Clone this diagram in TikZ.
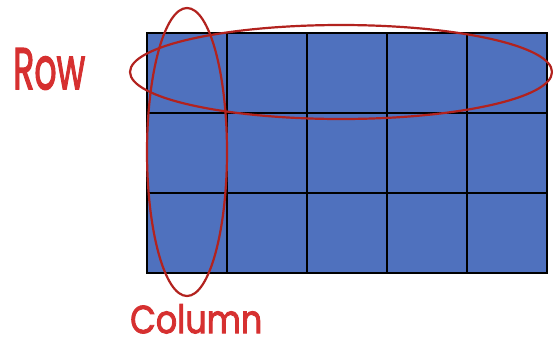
\documentclass[tikz,border=0pt]{standalone}
\usepackage{fontspec}
\newfontfamily\handfont{Poppins}[FakeBold=2.5]
\definecolor{cellblue}{RGB}{79,113,190}
\definecolor{ringred}{RGB}{178,34,30}
\definecolor{labelred}{RGB}{214,48,48}
\tikzset{
  cell/.style={draw=black, line width=2.6pt, fill=cellblue, minimum width=80pt, minimum height=80pt, inner sep=0pt, outer sep=0pt},
  ring/.style={draw=ringred, line width=2.2pt},
  lbl/.style={text=labelred, inner sep=0pt, font=\handfont}
}
\begin{document}
\begin{tikzpicture}[x=1pt,y=-1pt]
\useasboundingbox (0,0) rectangle (553,338);
\foreach \r in {0,1,2}{
  \foreach \c in {0,1,2,3,4}{
    \node[cell] (c\r\c) at ({187+80*\c},{73+80*\r}) {};
  }
}
\draw[ring] (341,72) ellipse [x radius=211, y radius=47];
\draw[ring] (187,152) ellipse [x radius=40, y radius=144];
\node[lbl, anchor=north west] (row) at (13,48) {\resizebox{72pt}{41pt}{Row}};
\node[lbl, anchor=north west] (col) at (130,304) {\resizebox{132pt}{29pt}{Column}};
\end{tikzpicture}
\end{document}
